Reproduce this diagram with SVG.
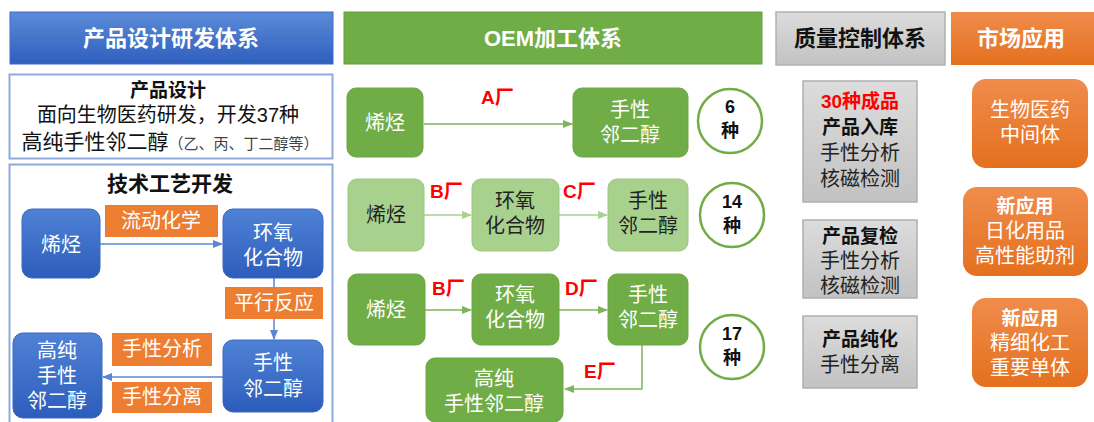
<svg xmlns="http://www.w3.org/2000/svg" width="1094" height="422" viewBox="0 0 1094 422">
<defs>
<linearGradient id="gBlue" x1="0" y1="0" x2="0" y2="1"><stop offset="0" stop-color="#5B8BD8"/><stop offset="1" stop-color="#2F5FBE"/></linearGradient>
<linearGradient id="gBlueN" x1="0" y1="0" x2="0" y2="1"><stop offset="0" stop-color="#4F82D6"/><stop offset="1" stop-color="#2D5DBB"/></linearGradient>
<linearGradient id="gGray" x1="0" y1="0" x2="0" y2="1"><stop offset="0" stop-color="#DCDCDC"/><stop offset="1" stop-color="#C2C2C2"/></linearGradient>
<linearGradient id="gOr" x1="0" y1="0" x2="0" y2="1"><stop offset="0" stop-color="#F08C4C"/><stop offset="1" stop-color="#E4701E"/></linearGradient>
<marker id="aB" viewBox="0 0 10 10" refX="9" refY="5" markerWidth="7" markerHeight="7" orient="auto"><path d="M0,1 L10,5 L0,9 z" fill="#5B86D2"/></marker>
<marker id="aG" viewBox="0 0 10 10" refX="9" refY="5" markerWidth="7" markerHeight="7" orient="auto"><path d="M0,1 L10,5 L0,9 z" fill="#7DB55A"/></marker>
<marker id="aL" viewBox="0 0 10 10" refX="9" refY="5" markerWidth="7" markerHeight="7" orient="auto"><path d="M0,1 L10,5 L0,9 z" fill="#A9D18E"/></marker>
<style>
text{font-family:"Liberation Sans","Noto Sans CJK SC",sans-serif;text-anchor:middle}
.hd{font-size:22px;font-weight:bold;fill:#fff}
.wt{font-size:20px;fill:#fff}
.bk{font-size:20px;fill:#222}
.b{font-weight:bold}
.bb{font-size:19px;font-weight:bold;fill:#111}
.rd{font-size:19px;font-weight:bold;fill:#FF0000;text-anchor:start}
.ct{font-size:18px;font-weight:bold;fill:#111}
.bn{fill:url(#gBlueN);stroke:#3A68C0;stroke-width:1}
.or{fill:#ED7D31}
.gn{fill:#70AD47;stroke:#6AA543;stroke-width:1}
.lg{fill:#A9D18E;stroke:#9CC77F;stroke-width:1}
.gy{fill:url(#gGray);stroke:#AFAFAF;stroke-width:1.5}
.on{fill:url(#gOr)}
.cir{fill:#fff;stroke:#70AD47;stroke-width:2.5}
.cb{stroke:#5B86D2;stroke-width:1.5;fill:none}
.cg{stroke:#7DB55A;stroke-width:1.5;fill:none}
.cl{stroke:#A9D18E;stroke-width:1.5;fill:none}
</style>
</defs>
<rect width="1094" height="422" fill="#fff"/>

<g id="h-design"><rect x="10" y="12" width="323" height="52" fill="url(#gBlue)" stroke="#3E6CC4"/><text class="hd" x="171" y="46">产品设计研发体系</text></g>
<g id="h-oem"><rect x="344" y="12" width="418" height="52" fill="#70AD47" stroke="#63A03C"/><text class="hd" x="553" y="46">OEM加工体系</text></g>
<g id="h-qc"><rect x="776" y="12" width="169" height="53" fill="url(#gGray)" stroke="#B0B0B0" stroke-width="1.5"/><text class="hd" x="860" y="46" style="fill:#111">质量控制体系</text></g>
<g id="h-mkt"><rect x="951" y="12" width="150" height="53" fill="url(#gOr)"/><text class="hd" x="1021" y="46">市场应用</text></g>

<g id="design-box"><rect x="9.5" y="74.5" width="323" height="84" fill="#fff" stroke="#8EA9DB" stroke-width="2"/>
<text x="168" y="97" style="font-size:20px;fill:#111"><tspan class="b" style="font-size:19px">产品设计</tspan><tspan x="168" dy="25">面向生物医药研发，开发37种</tspan><tspan x="170" dy="27" style="font-size:21px">高纯手性邻二醇<tspan style="font-size:15px;fill:#444">（乙、丙、丁二醇等）</tspan></tspan></text>
</g>

<g id="tech-box"><rect x="9.5" y="164.5" width="323" height="270" fill="#fff" stroke="#8EA9DB" stroke-width="2"/>
<text x="170" y="191" style="font-size:21px;font-weight:bold;fill:#111">技术工艺开发</text></g>

<g id="connectors">
<line class="cb" x1="100" y1="244" x2="222" y2="244" marker-end="url(#aB)"/>
<line class="cb" x1="274" y1="278" x2="274" y2="339" marker-end="url(#aB)"/>
<line class="cb" x1="223" y1="377" x2="103" y2="377" marker-end="url(#aB)"/>
<line class="cg" x1="424" y1="124" x2="572" y2="124" marker-end="url(#aG)"/>
<line class="cl" x1="424" y1="215" x2="471" y2="215" marker-end="url(#aL)"/>
<line class="cl" x1="559" y1="215" x2="607" y2="215" marker-end="url(#aL)"/>
<line class="cg" x1="425" y1="310" x2="471" y2="310" marker-end="url(#aG)"/>
<line class="cg" x1="559" y1="310" x2="607" y2="310" marker-end="url(#aG)"/>
<path class="cg" d="M642,345 V389 H565" marker-end="url(#aG)"/>
</g>

<g id="t-olefin"><rect class="bn" x="22" y="209" width="78" height="69" rx="10"/><text class="wt" x="61" y="252">烯烃</text></g>
<g id="t-epoxide"><rect class="bn" x="223" y="209" width="100" height="69" rx="10"/><text class="wt" x="273" y="240">环氧<tspan x="273" dy="25">化合物</tspan></text></g>
<g id="t-flow"><rect class="or" x="105" y="205" width="113" height="32"/><text class="wt" x="161" y="228">流动化学</text></g>
<g id="t-parallel"><rect class="or" x="225" y="287" width="98" height="32"/><text class="wt" x="274" y="310">平行反应</text></g>
<g id="t-diol"><rect class="bn" x="223" y="340" width="100" height="72" rx="10"/><text class="wt" x="273" y="370">手性<tspan x="273" dy="26">邻二醇</tspan></text></g>
<g id="t-pure"><rect class="bn" x="13" y="333" width="89" height="85" rx="10"/><text class="wt" x="57" y="358">高纯<tspan x="57" dy="25">手性</tspan><tspan x="57" dy="25">邻二醇</tspan></text></g>
<g id="t-analysis"><rect class="or" x="112" y="333" width="100" height="33"/><text class="wt" x="162" y="356">手性分析</text></g>
<g id="t-separation"><rect class="or" x="112" y="382" width="100" height="31"/><text class="wt" x="162" y="404">手性分离</text></g>

<g id="r1-olefin"><rect class="gn" x="347" y="88" width="76" height="69" rx="9"/><text class="wt" x="385" y="130">烯烃</text></g>
<g id="r1-label"><text class="rd" x="481" y="104">A厂</text></g>
<g id="r1-diol"><rect class="gn" x="573" y="88" width="115" height="69" rx="9"/><text class="wt" x="630" y="117">手性<tspan x="630" dy="25">邻二醇</tspan></text></g>
<g id="r1-count"><circle class="cir" cx="730" cy="121" r="32"/><text class="ct" x="730" y="113">6<tspan x="730" dy="24">种</tspan></text></g>

<g id="r2-olefin"><rect class="lg" x="348" y="179" width="76" height="72" rx="9"/><text class="bk" x="386" y="222">烯烃</text></g>
<g id="r2-epoxide"><rect class="lg" x="472" y="179" width="87" height="72" rx="9"/><text class="bk" x="515" y="208">环氧<tspan x="515" dy="25">化合物</tspan></text></g>
<g id="r2-diol"><rect class="lg" x="608" y="179" width="80" height="72" rx="9"/><text class="bk" x="648" y="208">手性<tspan x="648" dy="25">邻二醇</tspan></text></g>
<g id="r2-labels"><text class="rd" x="430" y="198">B厂</text><text class="rd" x="563" y="198">C厂</text></g>
<g id="r2-count"><circle class="cir" cx="732" cy="215" r="32"/><text class="ct" x="732" y="208">14<tspan x="732" dy="24">种</tspan></text></g>

<g id="r3-olefin"><rect class="gn" x="348" y="274" width="77" height="71" rx="9"/><text class="wt" x="386" y="317">烯烃</text></g>
<g id="r3-epoxide"><rect class="gn" x="472" y="274" width="87" height="71" rx="9"/><text class="wt" x="515" y="302">环氧<tspan x="515" dy="25">化合物</tspan></text></g>
<g id="r3-diol"><rect class="gn" x="608" y="274" width="80" height="71" rx="9"/><text class="wt" x="648" y="302">手性<tspan x="648" dy="25">邻二醇</tspan></text></g>
<g id="r3-labels"><text class="rd" x="432" y="295">B厂</text><text class="rd" x="565" y="295">D厂</text><text class="rd" x="584" y="378">E厂</text></g>
<g id="r3-count"><circle class="cir" cx="732" cy="347" r="32"/><text class="ct" x="732" y="340">17<tspan x="732" dy="24">种</tspan></text></g>
<g id="r3-pure"><rect class="gn" x="426" y="358" width="137" height="64" rx="9"/><text class="wt" x="494" y="386">高纯<tspan x="494" dy="25">手性邻二醇</tspan></text></g>

<g id="qc1"><rect class="gy" x="803" y="81" width="114" height="121"/>
<text class="bk" x="860" y="108"><tspan class="b" style="font-size:19px;fill:#FF0000">30种成品</tspan><tspan x="860" dy="26" class="b" style="font-size:19px;fill:#111">产品入库</tspan><tspan x="860" dy="26">手性分析</tspan><tspan x="860" dy="26">核磁检测</tspan></text></g>
<g id="qc2"><rect class="gy" x="803" y="220" width="114" height="78"/>
<text class="bk" x="860" y="243"><tspan class="b" style="font-size:19px;fill:#111">产品复检</tspan><tspan x="860" dy="25">手性分析</tspan><tspan x="860" dy="25">核磁检测</tspan></text></g>
<g id="qc3"><rect class="gy" x="803" y="316" width="114" height="72"/>
<text class="bk" x="860" y="346"><tspan class="b" style="font-size:19px;fill:#111">产品纯化</tspan><tspan x="860" dy="26">手性分离</tspan></text></g>

<g id="m1"><rect class="on" x="972" y="79" width="116" height="89" rx="14"/><text class="wt" x="1030" y="117">生物医药<tspan x="1030" dy="25">中间体</tspan></text></g>
<g id="m2"><rect class="on" x="963" y="187" width="125" height="89" rx="14"/><text class="wt" x="1025" y="213"><tspan class="b" style="font-size:19px">新应用</tspan><tspan x="1025" dy="25">日化用品</tspan><tspan x="1025" dy="25">高性能助剂</tspan></text></g>
<g id="m3"><rect class="on" x="972" y="298" width="116" height="89" rx="14"/><text class="wt" x="1030" y="325"><tspan class="b" style="font-size:19px">新应用</tspan><tspan x="1030" dy="25">精细化工</tspan><tspan x="1030" dy="25">重要单体</tspan></text></g>
</svg>
